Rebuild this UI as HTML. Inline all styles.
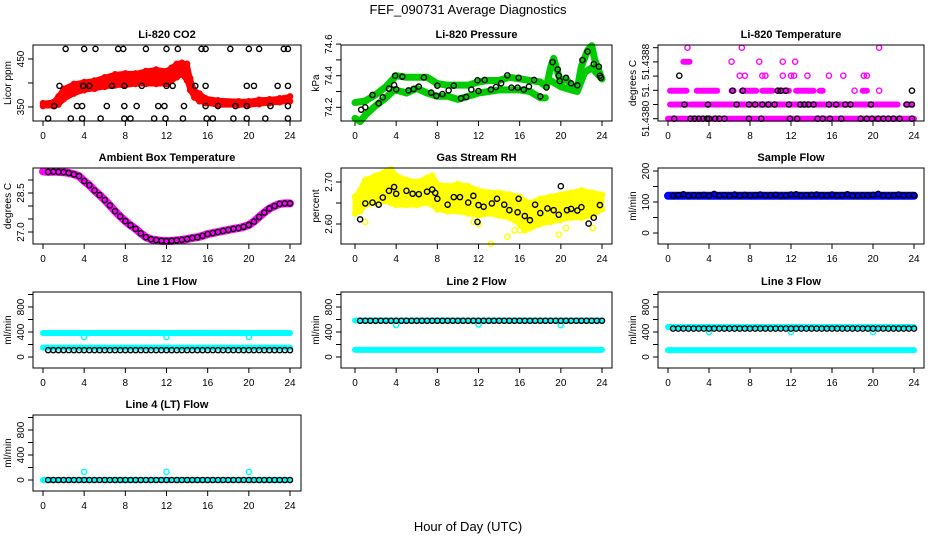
<!DOCTYPE html>
<html><head><meta charset="utf-8">
<style>
html,body{margin:0;padding:0;background:#fff;}
svg{display:block;font-family:"Liberation Sans",Arial,sans-serif;}
.t{font-size:11px;font-weight:bold;text-anchor:middle;}
.tk{font-size:10px;text-anchor:middle;}
</style></head>
<body>
<svg id="chart" width="936" height="540" viewBox="0 0 936 540">
<text x="468" y="14" font-size="13" text-anchor="middle">FEF_090731  Average Diagnostics</text>
<text x="468" y="531" font-size="13" text-anchor="middle">Hour of Day (UTC)</text>
</svg>
<script>
// ---------- data ----------
const xTicks=[0,4,8,12,16,20,24];
// CO2
const co2BandX=[0,1,1.5,2,3,4,5,6,7,8,9,10,11,12,12.5,13,13.5,14,14.3,14.7,15.2,15.8,17,19,20,21,22,23,24];
const co2BandHi=[358,360,372,388,398,402,405,412,418,420,420,425,428,425,432,440,442,440,410,385,378,368,364,362,362,365,366,368,372];
const co2BandLo=[352,352,355,366,378,385,388,392,395,395,398,398,398,398,405,412,418,405,385,370,362,358,354,354,354,356,358,360,362];
const co2PtX=[2.2,4,5.1,7.3,7.8,10,12,13.1,15.4,15.8,18.2,20,21,23.4,23.8,1.6,3.9,4.5,6.7,7.9,9.6,12,12.6,14.8,15.8,19.8,20.5,22.8,23.8,1.1,3.3,3.8,6.2,7.9,9.1,11.2,11.8,13.7,15.8,17,18.7,19.8,22.1,23.8,0.5,2.7,3.8,5.6,7.9,8.5,10.8,11.9,13.6,15.9,16.5,18.5,19.8,21.6,23.8];
const co2PtY=[471,471,471,471,471,471,471,471,471,471,471,471,471,471,471,394,394,394,394,394,394,394,394,394,394,394,394,394,394,352,352,352,352,352,352,352,352,352,352,352,352,352,352,352,326,326,326,326,326,326,326,326,326,326,326,326,326,326,326];
// Pressure
const presUpX=[0,1,2,3,4,5,6,7,8,9,10,11,12,13,14,15,16,17,18,18.6,19,19.3,19.7,20,20.5,21,21.6,22,22.6,23,23.3,23.7,24];
const presUpY=[74.23,74.24,74.28,74.33,74.40,74.39,74.39,74.39,74.35,74.34,74.34,74.34,74.36,74.37,74.37,74.39,74.38,74.37,74.36,74.33,74.45,74.51,74.42,74.36,74.38,74.34,74.32,74.46,74.56,74.59,74.50,74.43,74.38];
const presLoX=[0,0.5,1,2,3,3.8,4.5,5,6,7,8,9,10,11,12,13,14,15,16,17,18,18.5];
const presLoY=[74.13,74.11,74.15,74.21,74.26,74.31,74.30,74.29,74.32,74.29,74.27,74.27,74.25,74.27,74.29,74.30,74.31,74.31,74.31,74.30,74.26,74.26];
const presLo2X=[19,20,21,21.6,22.3,23,24];
const presLo2Y=[74.37,74.33,74.31,74.30,74.42,74.45,74.38];
const presPtX=[0.6,1,1.7,2.3,2.7,3.3,3.8,3.9,4,4.6,5.2,5.7,6.2,6.7,7.4,7.9,8,8.5,9.1,9.6,10.3,10.8,11.3,11.9,12,12.6,13.2,13.7,14.2,14.8,15.2,15.8,15.9,16.4,16.9,17.4,18,18.6,19.2,19.7,19.8,19.9,20.5,21,21.6,22.1,22.6,23.2,23.7,23.8,23.9];
const presPtY=[74.185,74.2,74.278,74.225,74.263,74.318,74.341,74.4,74.314,74.394,74.307,74.316,74.331,74.389,74.293,74.272,74.337,74.284,74.307,74.337,74.257,74.265,74.312,74.371,74.303,74.373,74.312,74.328,74.352,74.402,74.324,74.324,74.387,74.312,74.331,74.373,74.269,74.326,74.486,74.44,74.4,74.366,74.387,74.352,74.339,74.499,74.552,74.474,74.457,74.4,74.387];
// Li-820 temperature (discrete levels 0..5)
const tempSegLevel=[0,1,1,1,2,2,2,2,2,2,2,2,2,2,4];
const tempSegStart=[0,0.2,2.2,23.2,0.2,2.8,3.8,6.2,7.2,9.2,10.8,12.5,14.8,19,1.5];
const tempSegEnd=[24,1.9,22.4,23.8,1.8,3.7,4.8,6.4,8.6,10.2,11.8,14.2,15.1,19.4,2.1];
const tempMagX=[18.2,20.6,7,7.5,9.2,9.5,11.2,12,12.3,13.6,15.7,17.1,19.1,19.4,6.2,8.9,11.2,12.4,1.9,7.2,20.6];
const tempMagL=[2,2,3,3,3,3,3,3,3,3,3,3,3,3,4,4,4,4,5,5,5];
const tempBlkX=[0.6,2.2,2.6,3,3.4,3.8,4,4.6,5,5.5,7.9,9.1,11.9,12.6,14.6,15.1,15.8,16.9,18.8,19.4,19.9,20.5,21,21.5,22,22.6,23.8,1.6,3.9,6.7,7.9,8.5,9.2,9.8,10.4,11.8,12.9,13.3,13.7,14.2,15.7,16.4,17.3,17.8,19.8,23.3,23.8,6.3,7.3,10.7,11,11.5,23.8,1.1];
const tempBlkL=[0,0,0,0,0,0,0,0,0,0,0,0,0,0,0,0,0,0,0,0,0,0,0,0,0,0,0,1,1,1,1,1,1,1,1,1,1,1,1,1,1,1,1,1,1,1,1,2,2,2,2,2,2,3];
const tempTickLabels=["51.4380","","51.","","51.4388",""];
// Ambient box temperature
const ambX=[0,0.5,1,1.5,2,2.5,3,3.5,4,4.5,5,5.5,6,6.5,7,7.5,8,8.5,9,9.5,10,10.5,11,11.5,12,12.5,13,13.5,14,14.5,15,15.5,16,16.5,17,17.5,18,18.5,19,19.5,20,20.5,21,21.5,22,22.5,23,23.5,24];
const ambY=[29.33,29.31,29.32,29.31,29.3,29.27,29.22,29.15,28.96,28.8,28.6,28.42,28.23,28.02,27.8,27.6,27.42,27.26,27.12,26.95,26.8,26.72,26.69,26.66,26.65,26.66,26.68,26.7,26.73,26.77,26.8,26.85,26.92,26.96,27.0,27.04,27.08,27.12,27.15,27.2,27.27,27.4,27.58,27.75,27.9,28.0,28.08,28.1,28.1];
// Gas stream RH
const rhBandX=[0,0.5,1,2,3,3.5,4,5,6,7,7.5,8,9,10,11,12,13,14,15,16,16.5,17,18,19,20,21,22,23,24];
const rhBandHi=[2.665,2.68,2.705,2.715,2.725,2.73,2.715,2.705,2.7,2.71,2.715,2.695,2.69,2.695,2.69,2.68,2.675,2.675,2.67,2.665,2.655,2.65,2.66,2.665,2.67,2.675,2.68,2.675,2.67];
const rhBandLo=[2.625,2.63,2.645,2.65,2.655,2.65,2.645,2.645,2.645,2.65,2.645,2.635,2.63,2.63,2.625,2.62,2.625,2.62,2.615,2.6,2.585,2.59,2.6,2.605,2.61,2.615,2.615,2.62,2.635];
const rhOutX=[1,13.2,14.8,15.5,19.8,20.5,23.1,16,11.5,12];
const rhOutY=[2.605,2.553,2.57,2.585,2.575,2.59,2.59,2.585,2.605,2.6];
const rhPtX=[0.5,1,1.7,2.3,2.7,3.3,3.8,4,5,5.6,6.2,7,7.5,7.8,8,9,9.6,10.2,11,11.5,11.9,12,12.5,13.3,13.8,14.5,15,15.8,15.9,16.5,17,17.5,18,18.7,19.3,19.8,20,20.6,21,21.6,22,22.7,23.2,23.8];
const rhPtY=[2.611,2.649,2.651,2.646,2.663,2.679,2.688,2.672,2.679,2.672,2.671,2.677,2.682,2.674,2.66,2.646,2.664,2.664,2.651,2.667,2.605,2.645,2.641,2.649,2.66,2.646,2.633,2.628,2.66,2.619,2.609,2.646,2.626,2.637,2.633,2.622,2.69,2.633,2.636,2.632,2.64,2.601,2.615,2.645];
// Flows
const flowHours=[0.5,1,1.5,2,2.5,3,3.5,4,4.5,5,5.5,6,6.5,7,7.5,8,8.5,9,9.5,10,10.5,11,11.5,12,12.5,13,13.5,14,14.5,15,15.5,16,16.5,17,17.5,18,18.5,19,19.5,20,20.5,21,21.5,22,22.5,23,23.5,24];
const sampleFlow=[120,122,125,120,122,121,123,120,126,121,122,120,124,120,123,121,122,124,121,122,123,120,121,124,125,121,122,123,124,122,121,124,121,122,125,121,120,122,121,123,126,121,120,122,124,121,122,122];
const sampleBand=120;
const line1Black=110, line1CyanHi=384, line1CyanLo=150;
const line2Black=580, line2CyanHi=585, line2CyanLo=115;
const line3Black=455, line3CyanHi=480, line3CyanLo=110;
const line4Black=0, line4Cyan=0;
const cyanDipX=[4,12,20];
const line1Dip=[320,320,320], line2Dip=[510,520,510], line3Dip=[400,400,400], line4Spike=[130,130,130];

// ---------- geometry ----------
const NS="http://www.w3.org/2000/svg";
const svg=document.getElementById('chart');
const cols=[{l:33,r:301,x0:43,x1:290},{l:341,r:612,x0:355,x1:602},{l:658,r:924,x0:668,x1:914}];
const rows=[45,168,292,415];
const H=76;
function el(tag,attrs,parent){const e=document.createElementNS(NS,tag);for(const k in attrs)e.setAttribute(k,attrs[k]);(parent||svg).appendChild(e);return e;}
function panel(name,ci,ri,title,ylab,v1,p1,v2,p2,ticks,labels){
  const c=cols[ci],top=rows[ri],bot=top+H;
  const g=el('g',{});
  
  
  const sx=v=>c.x0+(c.x1-c.x0)*v/24;
  const sy=v=>p1+(v-v1)*(p2-p1)/(v2-v1);
  const t=el('text',{x:(c.l+c.r)/2,y:top-7,class:'t'},g);t.textContent=title;
  
  
  const yl=el('text',{x:0,y:0,'font-size':10,'text-anchor':'middle',transform:`translate(${c.l-22},${(top+bot)/2}) rotate(-90)`},g);yl.textContent=ylab;
  
  
  // x axis
  const xa=el('g',{},g);
  
  
  el('line',{x1:sx(0),x2:sx(24),y1:bot,y2:bot,stroke:'#000'},xa);
  xTicks.forEach(v=>{el('line',{x1:sx(v),x2:sx(v),y1:bot,y2:bot+5,stroke:'#000'},xa);
    const tx=el('text',{x:sx(v),y:bot+18,class:'tk'},xa);tx.textContent=v;});
  // y axis
  const ya=el('g',{},g);
  
  
  ticks.forEach((v,i)=>{const y=sy(v);el('line',{x1:c.l-5,x2:c.l,y1:y,y2:y,stroke:'#000'},ya);
    if(labels[i]!==''){const tx=el('text',{x:0,y:0,'font-size':10,'text-anchor':'middle',transform:`translate(${c.l-9},${y}) rotate(-90)`},ya);tx.textContent=labels[i];}});
  const pg=el('g',{},g);
  
  
  const box=el('rect',{x:c.l,y:top,width:c.r-c.l,height:H,fill:'none',stroke:'#000'},g);
  
  
  return {sx,sy,g:pg};
}
function circ(P,x,y,col,nm){const e=el('circle',{cx:P.sx(x),cy:P.sy(y),r:2.6,fill:'none',stroke:col,'stroke-width':1.4},P.g);
  
  return e;}
function band(P,xs,hi,lo,col,nm){let d='M'+xs.map((x,i)=>P.sx(x)+','+P.sy(hi[i])).join('L');
  for(let i=xs.length-1;i>=0;i--)d+='L'+P.sx(xs[i])+','+P.sy(lo[i]);
  const e=el('path',{d:d+'Z',fill:col,stroke:col,'stroke-width':5,'stroke-linejoin':'round'},P.g);
  
  
  xs.forEach((x,i)=>{circ(P,x,hi[i],col,nm+'-point');circ(P,x,lo[i],col,nm+'-point');});}
function line(P,xs,ys,col,w,nm){const e=el('polyline',{points:xs.map((x,i)=>P.sx(x)+','+P.sy(ys[i])).join(' '),fill:'none',stroke:col,'stroke-width':w,'stroke-linejoin':'round','stroke-linecap':'round'},P.g);
  
  }

// CO2
let P=panel('co2',0,0,'Li-820 CO2','Licor ppm',350,107,450,59,[350,400,450],['350','','450']);
band(P,co2BandX,co2BandHi,co2BandLo,'#ff0000','co2-red-series');
co2PtX.forEach((x,i)=>circ(P,x,co2PtY[i],'#000','co2-average-point'));
// Pressure
P=panel('pressure',1,0,'Li-820 Pressure','kPa',74.2,107.3,74.4,75.7,[74.2,74.3,74.4,74.5,74.6],['74.2','','74.4','','74.6']);
line(P,presUpX,presUpY,'#00cc00',7,'pressure-upper-band');
line(P,presLoX,presLoY,'#00cc00',7,'pressure-lower-band');
line(P,presLo2X,presLo2Y,'#00cc00',7,'pressure-late-band');
presPtX.forEach((x,i)=>circ(P,x,presPtY[i],'#000','pressure-average-point'));
// Temperature
const lvlY=[118.7,104.5,90.7,75.7,61.7,47.7];
P=panel('li820-temp',2,0,'Li-820 Temperature','degrees C',0,118.7,5,47.7,[0,1,2,3,4,5],tempTickLabels);
const PT={sx:P.sx,sy:l=>lvlY[l],g:P.g};
tempSegLevel.forEach((l,i)=>line(PT,[tempSegStart[i],tempSegEnd[i]],[l,l],'#ff00ff',6,'temp-magenta-run'));
tempMagX.forEach((x,i)=>circ(PT,x,tempMagL[i],'#ff00ff','temp-magenta-point'));
tempBlkX.forEach((x,i)=>circ(PT,x,tempBlkL[i],'#000','temp-average-point'));
// Ambient
P=panel('ambient-temp',0,1,'Ambient Box Temperature','degrees C',28.5,193,27.0,232,[27.0,27.5,28.0,28.5,29.0],['27.0','','','28.5','']);
line(P,ambX,ambY,'#ff00ff',8,'ambient-magenta-series');
ambX.forEach((x,i)=>{if(i>0)circ(P,x,ambY[i],'#000','ambient-average-point');});
// RH
P=panel('gas-rh',1,1,'Gas Stream RH','percent',2.70,182,2.60,224,[2.60,2.65,2.70],['2.60','','2.70']);
band(P,rhBandX,rhBandHi,rhBandLo,'#ffff00','rh-yellow-series');
rhOutX.forEach((x,i)=>circ(P,x,rhOutY[i],'#ffff00','rh-yellow-point'));
rhPtX.forEach((x,i)=>circ(P,x,rhPtY[i],'#000','rh-average-point'));
// Sample flow
P=panel('sample-flow',2,1,'Sample Flow','ml/min',0,233,200,171,[0,50,100,150,200],['0','','100','','200']);
line(P,[0,24],[sampleBand,sampleBand],'#0000ff',8,'sample-flow-blue-series');
flowHours.forEach((x,i)=>circ(P,x,sampleFlow[i],'#000','sample-flow-average-point'));
// Line flows
const fT=[0,200,400,600,800,1000],fL=['0','','400','','800',''];
function flowPanel(name,ci,ri,title,hi,lo,blk,dips){
  const base=rows[ri]+65;
  const Q=panel(name,ci,ri,title,'ml/min',0,base,800,base-50,fT,fL);
  if(hi!==null)line(Q,[0,24],[hi,hi],'#00ffff',6,name+'-cyan-upper');
  line(Q,[0,24],[lo,lo],'#00ffff',6,name+'-cyan-lower');
  cyanDipX.forEach((x,i)=>circ(Q,x,dips[i],'#00ffff',name+'-cyan-point'));
  flowHours.forEach(x=>circ(Q,x,blk,'#000',name+'-average-point'));
}
flowPanel('line1-flow',0,2,'Line 1 Flow',line1CyanHi,line1CyanLo,line1Black,line1Dip);
flowPanel('line2-flow',1,2,'Line 2 Flow',line2CyanHi,line2CyanLo,line2Black,line2Dip);
flowPanel('line3-flow',2,2,'Line 3 Flow',line3CyanHi,line3CyanLo,line3Black,line3Dip);
flowPanel('line4-flow',0,3,'Line 4 (LT) Flow',null,line4Cyan,line4Black,line4Spike);
</script>
</body></html>
